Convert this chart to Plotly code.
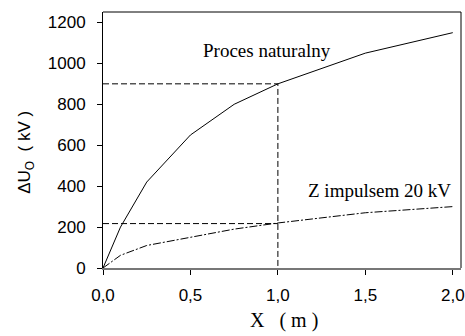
import plotly.graph_objects as go

x_vals = [0, 0.1, 0.25, 0.5, 0.75, 1.0, 1.5, 2.0]
natural = [0, 200, 420, 650, 800, 900, 1050, 1150]
impulse = [0, 62, 110, 150, 190, 220, 270, 300]
x_ticks = [0, 0.5, 1.0, 1.5, 2.0]
x_tick_text = ["0,0", "0,5", "1,0", "1,5", "2,0"]
y_ticks = [0, 200, 400, 600, 800, 1000, 1200]

fig = go.Figure()
fig.add_trace(go.Scatter(x=[0, 1.0, 1.0], y=[900, 900, 0], mode="lines",
                         line=dict(color="black", width=1, dash="6px,3px"), showlegend=False))
fig.add_trace(go.Scatter(x=[0, 1.0], y=[217, 217], mode="lines",
                         line=dict(color="black", width=1, dash="6px,3px"), showlegend=False))
fig.add_trace(go.Scatter(x=x_vals, y=natural, mode="lines",
                         line=dict(color="black", width=1), showlegend=False))
fig.add_trace(go.Scatter(x=x_vals, y=impulse, mode="lines",
                         line=dict(color="black", width=1, dash="8px,2px,2px,2px"), showlegend=False))

fig.add_annotation(x=0.94, y=1063, text="Proces naturalny", showarrow=False,
                   font=dict(family="Liberation Serif", size=19, color="black"))
fig.add_annotation(x=2.0, y=380, text="Z impulsem 20 kV", showarrow=False, xanchor="right",
                   font=dict(family="Liberation Serif", size=19, color="black"))
# axis titles
fig.add_annotation(xref="paper", yref="paper", x=-0.215, y=0.45, text="ΔU<sub>O</sub>  ( kV )",
                   textangle=-90, showarrow=False, xanchor="center", yanchor="middle",
                   font=dict(family="Liberation Sans", size=17, color="black"))
fig.add_annotation(xref="paper", yref="paper", x=0.505, y=-0.205, text="X   ( m )",
                   showarrow=False, xanchor="center", yanchor="middle",
                   font=dict(family="Liberation Serif", size=20, color="black"))

fig.update_layout(
    width=465, height=336,
    margin=dict(l=103, r=4, t=12, b=68),
    paper_bgcolor="white", plot_bgcolor="white",
    font=dict(family="Liberation Sans", size=17, color="black"),
    xaxis=dict(range=[0, 2.047], tickvals=x_ticks, ticktext=x_tick_text, automargin=False,
               ticks="outside", ticklen=5, tickcolor="black", showgrid=False, zeroline=False,
               ticklabelstandoff=6,
               showline=True, linecolor="#777", linewidth=2, mirror=False),
    yaxis=dict(range=[0, 1251], tickvals=y_ticks, ticks="outside", ticklen=5, tickcolor="black",
               automargin=False, ticklabelstandoff=8,
               showgrid=False, zeroline=False, showline=True, linecolor="black", linewidth=1),
    shapes=[
        dict(type="line", xref="paper", yref="paper", x0=0, x1=1, y0=1, y1=1, line=dict(color="black", width=1)),
        dict(type="line", xref="paper", yref="paper", x0=1, x1=1, y0=0, y1=1, line=dict(color="black", width=1)),
    ],
)

fig.write_html("out.html", config={"displayModeBar": False},
               post_script="document.body.style.margin='0';document.body.style.overflow='hidden';")
